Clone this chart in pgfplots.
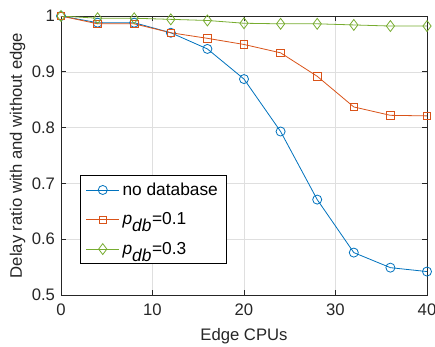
\documentclass[border=0pt]{standalone}
\usepackage{pgfplots}
\pgfplotsset{compat=1.18}
\usepackage{fontspec}
\setmainfont{Liberation Sans}
\definecolor{mblue}{rgb}{0,0.447,0.741}
\definecolor{morange}{rgb}{0.85,0.325,0.098}
\definecolor{mgreen}{rgb}{0.466,0.674,0.188}
\definecolor{axgray}{rgb}{0.15,0.15,0.15}
\begin{document}
\begin{tikzpicture}
\path[use as bounding box] (-45.75pt,-38.25pt) rectangle (280.5pt,221.25pt);
\begin{axis}[
  at={(0,0)}, anchor=south west,
  scale only axis,
  width=274.5pt, height=209.25pt,
  xmin=0, xmax=40, ymin=0.5, ymax=1,
  xtick={0,10,20,30,40},
  ytick={0.5,0.6,0.7,0.8,0.9,1},
  yticklabels={0.5,0.6,0.7,0.8,0.9,1},
  /pgf/number format/assume math mode=true,
  tick align=inside,
  major tick length=3.5pt,
  axis line style={axgray, line width=0.5pt},
  every tick/.style={axgray, line width=0.5pt},
  grid=major,
  grid style={gray!25, line width=0.4pt},
  tick label style={font=\fontsize{12.5}{14}\selectfont, text=axgray},
  label style={font=\fontsize{12.5}{14}\selectfont, text=axgray},
  xticklabel style={yshift=-3pt},
  yticklabel style={xshift=-1pt},
  xlabel={Edge CPUs},
  ylabel={Delay ratio with and without edge},
  xlabel style={yshift=-3pt},
  ylabel style={yshift=-2pt},
  legend style={at={(0.052,0.43)}, anchor=north west, draw=black, line width=0.5pt,
    font=\fontsize{13}{15}\selectfont, inner xsep=4pt, inner ysep=3.5pt, row sep=7.5pt,
    cells={anchor=west}},
  legend cell align=left,
  legend image code/.code={\draw[mark repeat=2,mark phase=2] plot coordinates {(0pt,0pt) (12.5pt,0pt) (25pt,0pt)};},
  every axis plot/.append style={line width=0.6pt},
]
\addplot[mblue, mark=o, mark size=3.4pt] coordinates {
(0,1.0) (4,0.988) (8,0.988) (12,0.970) (16,0.941) (20,0.887) (24,0.793) (28,0.671) (32,0.576) (36,0.549) (40,0.542)};
\addlegendentry{no database}
\addplot[morange, mark=square, mark size=2.8pt] coordinates {
(0,1.0) (4,0.986) (8,0.986) (12,0.970) (16,0.960) (20,0.949) (24,0.934) (28,0.892) (32,0.837) (36,0.822) (40,0.821)};
\addlegendentry{\textit{p}$_{\textit{db}}$=0.1}
\addplot[mgreen, mark=diamond, mark size=4.1pt] coordinates {
(0,1.0) (4,0.996) (8,0.996) (12,0.994) (16,0.992) (20,0.987) (24,0.986) (28,0.986) (32,0.984) (36,0.982) (40,0.982)};
\addlegendentry{\textit{p}$_{\textit{db}}$=0.3}
\end{axis}
\end{tikzpicture}
\end{document}
